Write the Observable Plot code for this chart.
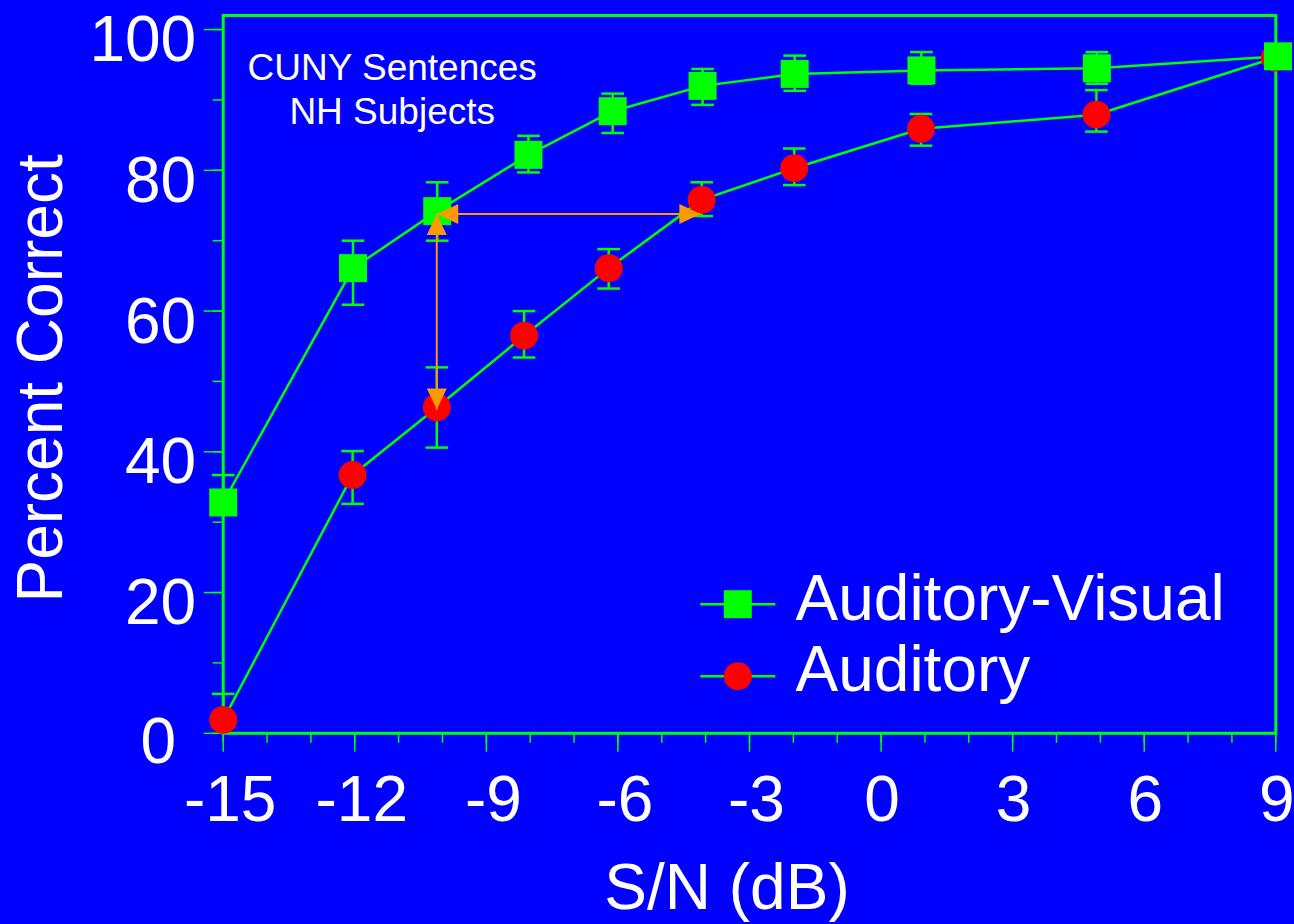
<!DOCTYPE html>
<html>
<head>
<meta charset="utf-8">
<script src="https://cdn.jsdelivr.net/npm/d3@7"></script>
<script src="https://cdn.jsdelivr.net/npm/@observablehq/plot@0.6"></script>
<style>
  html, body { margin: 0; padding: 0; background: #0000ff; }
  #chart svg { display: block; }
</style>
</head>
<body>
<div id="chart"></div>
<script>
// Speech recognition of CUNY sentences, normal-hearing subjects
const seriesNames = ["Auditory-Visual", "Auditory"];

// Auditory-Visual condition
const avSnr = [-15, -12.04, -10.12, -8.04, -6.12, -4.07, -1.97, 0.92, 4.92, 9.05];
const avPct = [32.8, 66.1, 74.2, 82.2, 88.4, 92.0, 93.7, 94.2, 94.5, 96.2];
const avLow = [null, 60.9, 70.0, 79.7, 85.3, 89.3, 91.3, 92.3, 92.3, null];
const avHigh = [36.7, 70.0, 78.3, 84.9, 90.9, 94.4, 96.3, 96.8, 96.8, null];

// Auditory-only condition
const aSnr = [-15, -12.05, -10.13, -8.14, -6.21, -4.09, -1.98, 0.91, 4.91, 8.98];
const aPct = [1.9, 36.7, 46.3, 56.5, 66.1, 75.8, 80.3, 85.9, 87.9, 96.0];
const aLow = [null, 32.6, 40.6, 53.4, 63.2, 73.5, 77.9, 83.5, 85.5, null];
const aHigh = [5.6, 40.1, 52.0, 60.0, 68.8, 78.3, 83.1, 88.0, 91.4, null];

// Ticks
const xMajorTicks = [-15, -12, -9, -6, -3, 0, 3, 6, 9];
const xMinorTicks = d3.range(-15, 10, 1);
const yMajorTicks = [0, 20, 40, 60, 80, 100];
const yMinorTicks = d3.range(0, 101, 10);

// Benefit of vision at -10 dB: equal-score and equal-SNR arrows
const arrowH = {x1: -10.12, x2: -4.12, y: 73.8};
const arrowV = {x: -10.13, y1: 73.8, y2: 46.0};

const annotation = ["CUNY Sentences", "NH Subjects"];

const GREEN = "#00ff00";
const RED = "#ff0000";
const ORANGE = "#ff9900";
const FONT = "'Liberation Sans', Arial, Helvetica, sans-serif";

const table = (xs, ys, lo, hi) =>
  xs.map((x, i) => ({x, y: ys[i], lo: lo[i], hi: hi[i]}));
const av = table(avSnr, avPct, avLow, avHigh);
const au = table(aSnr, aPct, aLow, aHigh);

const bars = (rows) => rows
  .filter((d) => d.lo != null || d.hi != null)
  .map((d) => ({x: d.x, y1: d.lo ?? d.y, y2: d.hi ?? d.y}));
const caps = (rows) => rows.flatMap((d) =>
  [d.lo, d.hi].filter((v) => v != null).map((v) => ({x: d.x, y: v})));

// horizontal stroke symbol, used for error-bar caps and legend lines
const hline = (half) => ({
  draw(ctx) { ctx.moveTo(-half, 0); ctx.lineTo(half, 0); }
});
// filled arrowhead with its tip at the origin, pointing up
const arrowHead = {
  draw(ctx) { ctx.moveTo(0, 0); ctx.lineTo(10, 21); ctx.lineTo(-10, 21); ctx.closePath(); }
};
const heads = [
  {x: arrowH.x1, y: arrowH.y, rotate: -90},
  {x: arrowH.x2, y: arrowH.y, rotate: 90},
  {x: arrowV.x, y: arrowV.y1, rotate: 0},
  {x: arrowV.x, y: arrowV.y2, rotate: 180}
];

const tickStyle = {stroke: GREEN, strokeWidth: 1.5, strokeOpacity: 1, label: null, tickFormat: () => ""};
const labelStyle = {fill: "white", fontSize: 64, text: (d) => String(d)};

const chart = Plot.plot({
  width: 1294,
  height: 924,
  marginLeft: 222.7,
  marginRight: 18.7,
  marginTop: 15,
  marginBottom: 191.2,
  style: {background: "#0000ff", fontFamily: FONT, color: "white"},
  x: {domain: [-15, 9], label: null},
  y: {domain: [0, 102], label: null},
  marks: [
    // axis ticks (outward)
    Plot.axisX(xMinorTicks, {...tickStyle, tickSize: 10}),
    Plot.axisX(xMajorTicks, {...tickStyle, tickSize: 19}),
    Plot.axisY(yMinorTicks, {...tickStyle, tickSize: 10}),
    Plot.axisY(yMajorTicks, {...tickStyle, tickSize: 19}),
    // tick labels
    Plot.text(xMajorTicks.filter((d) => d < 0), {
      ...labelStyle, x: (d) => d, frameAnchor: "bottom", dy: 42, dx: 7,
      textAnchor: "middle", lineAnchor: "top"
    }),
    Plot.text(xMajorTicks.filter((d) => d >= 0), {
      ...labelStyle, x: (d) => d, frameAnchor: "bottom", dy: 42, dx: 1,
      textAnchor: "middle", lineAnchor: "top"
    }),
    Plot.text(yMajorTicks.filter((d) => d > 0), {
      ...labelStyle, y: (d) => d, frameAnchor: "left", dx: -27, dy: 11,
      textAnchor: "end", lineAnchor: "middle"
    }),
    Plot.text(yMajorTicks.filter((d) => d === 0), {
      ...labelStyle, y: (d) => d, frameAnchor: "left", dx: -47, dy: 9,
      textAnchor: "end", lineAnchor: "middle"
    }),
    // axis titles
    Plot.text(["S/N (dB)"], {
      ...labelStyle, frameAnchor: "bottom", dx: -22.5, dy: 176,
      textAnchor: "middle", lineAnchor: "bottom"
    }),
    Plot.text(["Percent Correct"], {
      ...labelStyle, frameAnchor: "left", dx: -161.7, dy: 4, rotate: -90,
      textAnchor: "middle", lineAnchor: "bottom"
    }),
    // plot border
    Plot.frame({stroke: GREEN, strokeWidth: 3}),
    // connecting lines
    Plot.line(av, {x: "x", y: "y", stroke: GREEN, strokeWidth: 2.5}),
    Plot.line(au, {x: "x", y: "y", stroke: GREEN, strokeWidth: 2.5}),
    // error bars
    Plot.ruleX(bars(av), {x: "x", y1: "y1", y2: "y2", stroke: GREEN, strokeWidth: 2.5}),
    Plot.ruleX(bars(au), {x: "x", y1: "y1", y2: "y2", stroke: GREEN, strokeWidth: 2.5}),
    Plot.dot(caps(av), {x: "x", y: "y", symbol: hline(11.3), fill: "none", stroke: GREEN, strokeWidth: 2.5}),
    Plot.dot(caps(au), {x: "x", y: "y", symbol: hline(11.3), fill: "none", stroke: GREEN, strokeWidth: 2.5}),
    // markers
    Plot.dot(au, {x: "x", y: "y", r: 14, fill: RED, stroke: "none"}),
    Plot.dot(av, {x: "x", y: "y", symbol: "square", r: 15.8, fill: GREEN, stroke: "none"}),
    // arrows
    Plot.link([arrowH], {x1: "x1", x2: "x2", y1: "y", y2: "y", stroke: ORANGE, strokeWidth: 2}),
    Plot.link([arrowV], {x1: "x", x2: "x", y1: "y1", y2: "y2", stroke: ORANGE, strokeWidth: 2}),
    Plot.dot(heads, {x: "x", y: "y", rotate: "rotate", symbol: arrowHead, fill: ORANGE, stroke: "none"}),
    // annotation
    Plot.text(annotation.slice(0, 1), {
      ...labelStyle, fontSize: 37, frameAnchor: "top-left", dx: 169, dy: 64.3,
      textAnchor: "middle", lineAnchor: "bottom"
    }),
    Plot.text(annotation.slice(1), {
      ...labelStyle, fontSize: 37, frameAnchor: "top-left", dx: 169, dy: 108.3,
      textAnchor: "middle", lineAnchor: "bottom"
    }),
    // legend
    Plot.dot([seriesNames[0]], {frameAnchor: "top-left", dx: 514.6, dy: 588.7, symbol: hline(37.5), fill: "none", stroke: GREEN, strokeWidth: 2.5}),
    Plot.dot([seriesNames[0]], {frameAnchor: "top-left", dx: 514.6, dy: 588.7, symbol: "square", r: 15.8, fill: GREEN, stroke: "none"}),
    Plot.dot([seriesNames[1]], {frameAnchor: "top-left", dx: 514.6, dy: 660.7, symbol: hline(37.5), fill: "none", stroke: GREEN, strokeWidth: 2.5}),
    Plot.dot([seriesNames[1]], {frameAnchor: "top-left", dx: 514.6, dy: 660.7, r: 14, fill: RED, stroke: "none"}),
    Plot.text([seriesNames[0]], {...labelStyle, frameAnchor: "top-left", dx: 572.3, dy: 604.3, textAnchor: "start", lineAnchor: "bottom"}),
    Plot.text([seriesNames[1]], {...labelStyle, frameAnchor: "top-left", dx: 572.3, dy: 675, textAnchor: "start", lineAnchor: "bottom"})
  ]
});

document.getElementById("chart").appendChild(chart);
</script>
</body>
</html>
